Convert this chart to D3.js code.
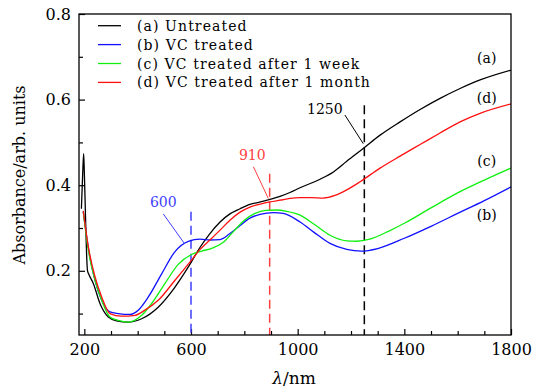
<!DOCTYPE html>
<html><head><meta charset="utf-8">
<script src="https://cdn.jsdelivr.net/npm/d3@7"></script>
<style>html,body{margin:0;padding:0;background:#fff;}svg{display:block;}</style>
</head><body>
<svg id="chart" width="533" height="392"></svg>
<script>
// ---- data ----
const seriesNames = ["(a) Untreated","(b) VC treated","(c) VC treated after 1 week","(d) VC treated after 1 month"];
const seriesTags = ["(a)","(b)","(c)","(d)"];
const seriesColors = ["#000000","#1010ff","#10f010","#ff1010"];

const untreatedX = [189,194,197.5,200,203,206,209,212,216,234,259,290,321,365,415,477,540,590,634,671,709,746,784,821,860,896,934,971,1009,1084,1134,1184,1246,1309,1384,1459,1534,1609,1684,1800];
const untreatedY = [0.345,0.43,0.474,0.43,0.36,0.29,0.23,0.200,0.193,0.170,0.123,0.092,0.083,0.080,0.088,0.115,0.162,0.209,0.255,0.287,0.314,0.333,0.345,0.355,0.361,0.367,0.374,0.383,0.394,0.414,0.431,0.456,0.486,0.517,0.548,0.577,0.603,0.626,0.646,0.669];

const vcX = [196,209,221,240,265,296,327,371,402,440,490,540,590,634,671,709,746,784,821,859,909,946,1009,1059,1121,1184,1240,1300,1400,1500,1600,1700,1800];
const vcY = [0.338,0.279,0.232,0.178,0.131,0.104,0.100,0.098,0.108,0.139,0.193,0.245,0.269,0.274,0.272,0.273,0.287,0.306,0.323,0.332,0.336,0.334,0.314,0.291,0.264,0.250,0.246,0.252,0.276,0.304,0.334,0.364,0.396];

const weekX = [196,215,240,265,296,327,365,415,452,502,552,602,640,680,720,760,800,840,880,920,959,1009,1059,1121,1184,1221,1271,1346,1400,1500,1600,1700,1800];
const weekY = [0.338,0.248,0.178,0.131,0.092,0.084,0.080,0.096,0.123,0.170,0.215,0.238,0.246,0.253,0.266,0.292,0.318,0.334,0.341,0.342,0.339,0.330,0.310,0.283,0.270,0.269,0.274,0.294,0.311,0.347,0.382,0.412,0.440];

const monthX = [196,215,240,265,296,340,390,427,477,540,602,634,671,709,746,784,821,860,896,934,971,1009,1050,1096,1140,1184,1234,1309,1384,1459,1534,1609,1684,1800];
const monthY = [0.340,0.256,0.186,0.139,0.100,0.094,0.096,0.108,0.131,0.178,0.225,0.250,0.272,0.295,0.318,0.337,0.349,0.356,0.361,0.365,0.369,0.371,0.371,0.370,0.376,0.389,0.408,0.440,0.468,0.495,0.522,0.548,0.568,0.590];

const xTicksMajor = [200,600,1000,1400,1800];
const xTicksMinor = [300,400,500,700,800,900,1100,1200,1300,1500,1600,1700];
const yTicksMajor = [0.2,0.4,0.6,0.8];
const yTicksMinor = [0.1,0.3,0.5,0.7];

const markerX = [600, 895, 1250];
const markerTop = [0.338, 0.427, 0.587];
const markerLabels = ["600","910","1250"];
const markerColors = ["#4040ff","#ff4040","#000000"];

// ---- layout ----
const L = 79, T = 14, R = 511, B = 335;
const svg = d3.select("#chart");
const x = d3.scaleLinear().domain([180,1800]).range([L,R]);
const y = d3.scaleLinear().domain([0.05,0.8]).range([B,T]);
const FONT = "DejaVu Serif";

const series = [
  {x: untreatedX, y: untreatedY},
  {x: vcX, y: vcY},
  {x: weekX, y: weekY},
  {x: monthX, y: monthY}
];

// axes
const gx = svg.append("g").attr("transform",`translate(0,${B})`)
  .call(d3.axisBottom(x).tickValues(xTicksMajor).tickSize(-6).tickPadding(9).tickFormat(d3.format("d")));
const gxm = svg.append("g").attr("transform",`translate(0,${B})`)
  .call(d3.axisBottom(x).tickValues(xTicksMinor).tickSize(-4).tickFormat(""));
const gy = svg.append("g").attr("transform",`translate(${L},0)`)
  .call(d3.axisLeft(y).tickValues(yTicksMajor).tickSize(-6).tickPadding(8).tickFormat(d3.format(".1f")));
const gym = svg.append("g").attr("transform",`translate(${L},0)`)
  .call(d3.axisLeft(y).tickValues(yTicksMinor).tickSize(-4).tickFormat(""));
[gx,gxm,gy,gym].forEach(g=>{
  g.select(".domain").remove();
  g.selectAll(".tick line").attr("stroke","#000").attr("stroke-width",1.2);
  g.selectAll("text").attr("font-family",FONT).attr("font-size",16).attr("fill","#000");
});

// marker dashed lines
markerX.forEach((mx,i)=>{
  svg.append("line").attr("x1",x(mx)).attr("x2",x(mx)).attr("y1",y(markerTop[i])).attr("y2",y(0.05))
    .attr("stroke",markerColors[i]).attr("stroke-width",1.5).attr("stroke-dasharray","9,5");
});

// curves
const line = d3.line().curve(d3.curveMonotoneX);
series.forEach((s,i)=>{
  const pts = s.x.map((v,j)=>[x(v), y(s.y[j])]);
  svg.append("path").attr("d",line(pts)).attr("fill","none")
    .attr("stroke",seriesColors[i]).attr("stroke-width",1.3).attr("stroke-linejoin","round");
});

// annotations (label position + leader end, in data units)
const annot = [
  {lx:496, ly:0.348, a:[496,0.333], b:[575,0.264]},
  {lx:830, ly:0.458, a:[834,0.443], b:[890,0.369]},
  {lx:1102, ly:0.566, a:[1177,0.564], b:[1246,0.497]}
];
annot.forEach((an,i)=>{
  svg.append("text").attr("x",x(an.lx)).attr("y",y(an.ly)).attr("text-anchor","middle")
    .attr("font-family",FONT).attr("font-size",14).attr("fill",markerColors[i]).text(markerLabels[i]);
  svg.append("line").attr("x1",x(an.a[0])).attr("y1",y(an.a[1])).attr("x2",x(an.b[0])).attr("y2",y(an.b[1]))
    .attr("stroke",markerColors[i]).attr("stroke-width",1);
});

// curve tags
const tagY = [0.685, 0.318, 0.444, 0.592];
seriesTags.forEach((t,i)=>{
  svg.append("text").attr("x",x(1709)).attr("y",y(tagY[i])).attr("text-anchor","middle")
    .attr("font-family",FONT).attr("font-size",14).attr("fill","#000").text(t);
});

// legend
seriesNames.forEach((n,i)=>{
  const yy = 25.7 + i*18.9;
  svg.append("line").attr("x1",98).attr("x2",121).attr("y1",yy).attr("y2",yy)
    .attr("stroke",seriesColors[i]).attr("stroke-width",1.3);
  svg.append("text").attr("x",137).attr("y",yy+5).attr("font-family",FONT).attr("font-size",14)
    .attr("letter-spacing","1.1px").attr("fill","#000").text(n);
});

// frame
svg.append("rect").attr("x",L).attr("y",T).attr("width",R-L).attr("height",B-T)
  .attr("fill","none").attr("stroke","#000").attr("stroke-width",1.3);

// axis titles
svg.append("text").attr("transform",`translate(25,175) rotate(-90)`).attr("text-anchor","middle")
  .attr("font-family",FONT).attr("font-size",16).attr("fill","#000").text("Absorbance/arb. units");
const xt = svg.append("text").attr("x",294).attr("y",384).attr("text-anchor","middle")
  .attr("font-family",FONT).attr("font-size",17).attr("fill","#000");
xt.append("tspan").attr("font-style","italic").text("λ");
xt.append("tspan").text("/nm");
</script>
</body></html>
